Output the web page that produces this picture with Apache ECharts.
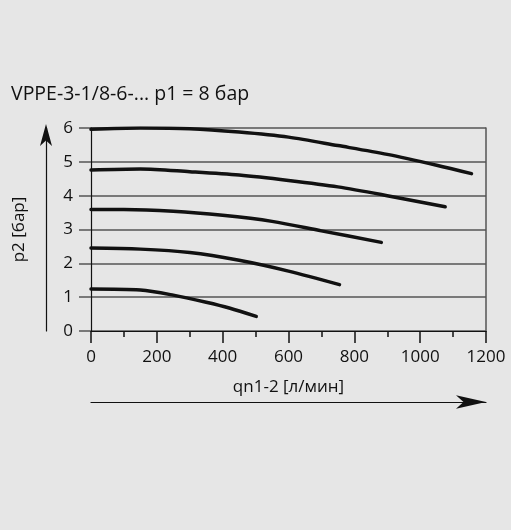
<!DOCTYPE html>
<html>
<head>
<meta charset="utf-8">
<script src="https://cdn.jsdelivr.net/npm/echarts@6/dist/echarts.min.js"></script>
<style>
  html, body { margin: 0; padding: 0; background: #e6e6e6; }
  #chart { width: 511px; height: 530px; }
</style>
</head>
<body>
<div id="chart"></div>
<script>
// p2 [bar] vs qn1-2 [l/min], one curve per set pressure
const curve6 = [[0, 5.96], [150, 6.0], [300, 5.98], [450, 5.88], [600, 5.73], [750, 5.48], [900, 5.22], [1050, 4.9], [1156, 4.65]];
const curve5 = [[0, 4.76], [150, 4.79], [300, 4.71], [450, 4.61], [600, 4.45], [750, 4.26], [900, 4.0], [1076, 3.67]];
const curve4 = [[0, 3.59], [100, 3.59], [250, 3.54], [400, 3.42], [550, 3.24], [700, 2.96], [882, 2.62]];
const curve3 = [[0, 2.45], [150, 2.42], [300, 2.32], [450, 2.09], [600, 1.77], [755, 1.37]];
const curve2 = [[0, 1.24], [150, 1.21], [250, 1.06], [350, 0.85], [420, 0.68], [502, 0.43]];
const curves = [curve6, curve5, curve4, curve3, curve2];

const font = '"Open Sans", "Noto Sans", sans-serif';
const chart = echarts.init(document.getElementById('chart'));
chart.setOption({
    animation: false,
    backgroundColor: '#e6e6e6',
    title: {
        text: 'VPPE-3-1/8-6-... p1 = 8 бар',
        left: 6,
        top: 79,
        textStyle: { fontFamily: font, fontSize: 19.5, fontWeight: 'normal', color: '#111' }
    },
    grid: { left: 91, right: 25, top: 128, bottom: 199 },
    xAxis: [
        {
            type: 'value',
            min: 0,
            max: 1200,
            interval: 200,
            name: 'qn1-2 [л/мин]',
            nameLocation: 'middle',
            nameGap: 48,
            nameTextStyle: { fontFamily: font, fontSize: 17, color: '#111' },
            axisLine: { show: true, onZero: false, lineStyle: { color: '#111', width: 1.2 } },
            axisTick: { show: true, length: 12, lineStyle: { color: '#111', width: 1.5 } },
            minorTick: { show: true, splitNumber: 2, length: 6, lineStyle: { color: '#111', width: 1.5 } },
            axisLabel: { fontFamily: font, fontSize: 17, color: '#111', margin: 18, formatter: v => String(v) },
            splitLine: { show: false }
        },
        {
            type: 'value',
            min: 0,
            max: 1200,
            position: 'bottom',
            offset: 71,
            axisLine: {
                show: true,
                onZero: false,
                symbol: ['none', 'arrow'],
                symbolSize: [10, 30],
                symbolOffset: [0, 0],
                lineStyle: { color: '#111', width: 1.2 }
            },
            axisTick: { show: false },
            axisLabel: { show: false },
            splitLine: { show: false }
        }
    ],
    yAxis: [
        {
            type: 'value',
            min: 0,
            max: 6,
            interval: 1,
            name: 'p2 [бар]',
            nameLocation: 'middle',
            nameGap: 63,
            nameTextStyle: { fontFamily: font, fontSize: 17, color: '#111' },
            axisLine: { show: true, onZero: false, lineStyle: { color: '#111', width: 1.2 } },
            axisTick: { show: true, length: 12, lineStyle: { color: '#555', width: 1.5 } },
            axisLabel: { fontFamily: font, fontSize: 17, color: '#111', margin: 18 },
            splitLine: { show: true, lineStyle: { color: '#555', width: 1.5 } }
        },
        {
            type: 'value',
            min: 0,
            max: 6,
            position: 'right',
            axisLine: { show: true, onZero: false, lineStyle: { color: '#555', width: 1.5 } },
            axisTick: { show: false },
            axisLabel: { show: false },
            splitLine: { show: false }
        },
        {
            type: 'value',
            min: 0,
            max: 6,
            position: 'left',
            offset: 45,
            axisLine: {
                show: true,
                onZero: false,
                symbol: ['none', 'arrow'],
                symbolSize: [9, 22],
                symbolOffset: [0, 4],
                lineStyle: { color: '#111', width: 1.2 }
            },
            axisTick: { show: false },
            axisLabel: { show: false },
            splitLine: { show: false }
        }
    ],
    series: curves.map(c => ({
        type: 'line',
        data: c,
        smooth: 0.3,
        symbol: 'none',
        lineStyle: { color: '#111', width: 3.5, cap: 'round' }
    }))
});
</script>
</body>
</html>
